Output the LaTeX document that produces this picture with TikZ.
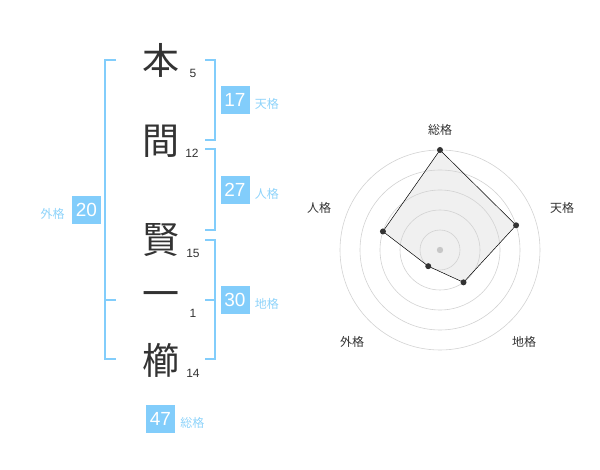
\documentclass[tikz,border=0pt]{standalone}
\usepackage{fontspec}
\setmainfont{Liberation Sans}
\newfontfamily\jp{Noto Sans CJK JP}
\usetikzlibrary{positioning}
\definecolor{kakublue}{HTML}{82CDFB}
\definecolor{kakutext}{HTML}{8ED3FA}
\definecolor{ringgray}{HTML}{D2D2D2}
\definecolor{inkgray}{HTML}{333333}

\begin{document}
\begin{tikzpicture}[x=1pt,y=-1pt,
  kanji/.style={font=\jp\fontsize{37}{37}\selectfont,text=inkgray,inner sep=0pt},
  strokes/.style={font=\fontsize{12}{12}\selectfont,text=inkgray,inner sep=0pt},
  kakubox/.style={fill=kakublue,text=white,minimum width=29pt,minimum height=28pt,inner sep=0pt,font=\fontsize{19}{19}\selectfont},
  kakuname/.style={font=\jp\fontsize{12}{12}\selectfont,text=kakutext,inner sep=0pt,yshift=-4pt},
  bracket/.style={draw=kakublue,line width=2pt},
  ring/.style={draw=ringgray,line width=0.6pt},
  axisname/.style={font=\jp\fontsize{12}{12}\selectfont,text=inkgray,inner sep=0pt},
  dot/.style={circle,fill=inkgray,inner sep=0pt,minimum size=6pt}]
\useasboundingbox (0,0) rectangle (600,470);
%name
\path (161,60) node(k1)[kanji]{本}
(161,141) node(k2)[kanji]{間}
(161,240) node(k3)[kanji]{賢}
(161,300) node(k4)[kanji]{一}
(161,360) node(k5)[kanji]{櫛}
(193,73) node(n1)[strokes]{5}
(192,153) node(n2)[strokes]{12}
(193,253) node(n3)[strokes]{15}
(193,313) node(n4)[strokes]{1}
(193,373) node(n5)[strokes]{14};
%brackets
\draw[bracket] (116,60) -| (105,359) -- (116,359);
\draw[bracket] (105,300) -- (116,300);
\draw[bracket] (205,60) -| (215,140) -- (205,140);
\draw[bracket] (205,149) -| (215,230) -- (205,230);
\draw[bracket] (205,240) -| (215,359) -- (205,359);
\draw[bracket] (205,300) -- (215,300);
%boxes
\path (235,100) node(ten)[kakubox]{17}
(235,190) node(jin)[kakubox]{27}
(235,300) node(chi)[kakubox]{30}
(86.5,210) node(gai)[kakubox]{20}
(160.5,419) node(sou)[kakubox]{47};
\node[kakuname,right=5pt of ten]{天格};
\node[kakuname,right=5pt of jin]{人格};
\node[kakuname,right=5pt of chi]{地格};
\node[kakuname,left=7pt of gai]{外格};
\node[kakuname,right=5pt of sou]{総格};
%radar
\begin{scope}[shift={(440,250)},yscale=-1]
\coordinate (rs) at (90:100);
\coordinate (rt) at (18:80);
\coordinate (rc) at (-54:40);
\coordinate (rg) at (234:20);
\coordinate (rj) at (162:60);
\fill[black!6] (rs) -- (rt) -- (rc) -- (rg) -- (rj) -- cycle;
\foreach \r in {20,40,60,80,100}
  \draw[ring] (0,0) circle (\r);
\fill[black!22] (0,0) circle (3.2);
\draw[black,line width=0.5pt] (rs) -- (rt) -- (rc) -- (rg) -- (rj) -- cycle;
\foreach \p in {rs,rt,rc,rg,rj}
  \node[dot] at (\p) {};
\end{scope}
\path (440,130) node(as)[axisname]{総格}
(562,208) node(at)[axisname]{天格}
(319,208) node(aj)[axisname]{人格}
(352,342) node(ag)[axisname]{外格}
(524,342) node(ac)[axisname]{地格};
\end{tikzpicture}
\end{document}
